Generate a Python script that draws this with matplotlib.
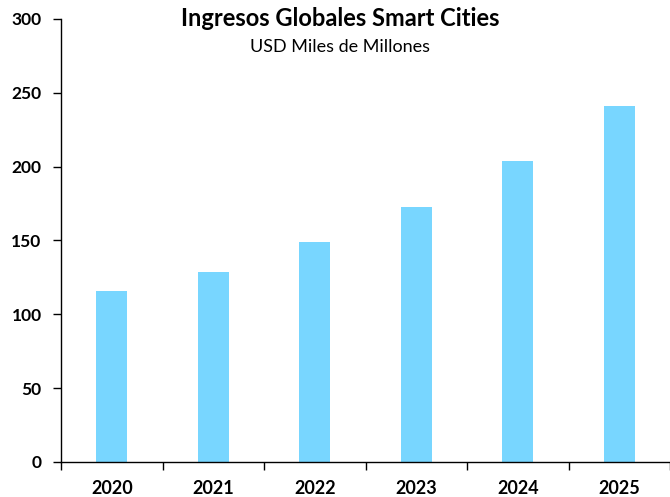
import matplotlib.pyplot as plt
import numpy as np

# Valores
years = ["2020", "2021", "2022", "2023", "2024", "2025"]
revenue = [116, 129, 149, 173, 204, 241]

bar_color = "#78D6FF"

plt.rcParams["font.family"] = ["Lato", "DejaVu Sans"]

fig = plt.figure(figsize=(6.7, 4.97), dpi=100)
ax = fig.add_axes([61 / 670, 35 / 497, 609 / 670, 443 / 497])

x = np.arange(len(years))
ax.bar(x, revenue, width=0.31, color=bar_color)

ax.set_xlim(-0.5, len(years) - 0.5)
ax.set_ylim(0, 300)
ax.set_yticks(np.arange(0, 301, 50))

# Labels centred under the bars, tick marks between categories
ax.set_xticks(x)
ax.set_xticklabels(years, fontweight="bold", fontsize=13)
ax.tick_params(axis="x", which="major", length=0, pad=13)
ax.set_xticks(np.arange(-0.5, len(years)), minor=True)
ax.tick_params(axis="x", which="minor", length=6, width=1, direction="out")

ax.tick_params(axis="y", length=6, width=1, pad=8, labelsize=12.5)
for lbl in ax.get_yticklabels():
    lbl.set_fontweight("bold")

for side in ["top", "right"]:
    ax.spines[side].set_visible(False)
for side in ["left", "bottom"]:
    ax.spines[side].set_linewidth(1)
    ax.spines[side].set_color("black")

fig.text(340 / 670, 1 - 19 / 497, "Ingresos Globales Smart Cities",
         ha="center", va="center", fontsize=17, fontweight="bold")
fig.text(340 / 670, 1 - 47 / 497, "USD Miles de Millones",
         ha="center", va="center", fontsize=13)

fig.savefig("out.png", dpi=100)
